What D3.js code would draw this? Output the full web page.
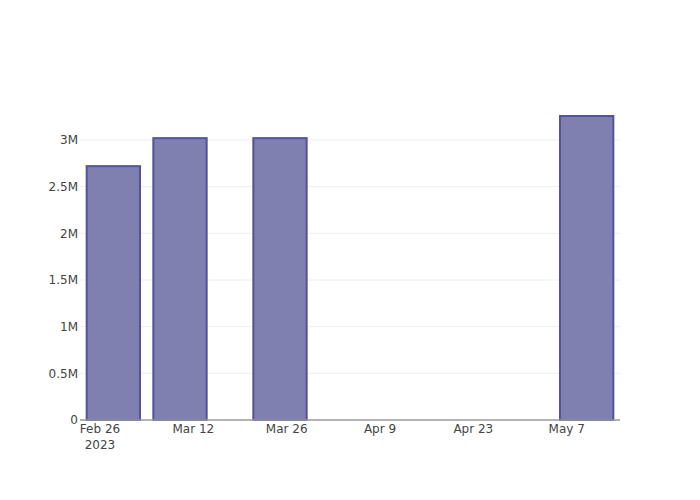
<!DOCTYPE html>
<html><head><meta charset="utf-8">
<script src="https://cdn.jsdelivr.net/npm/d3@7"></script>
<style>body{margin:0;background:#fff}svg{display:block}text{font-family:"DejaVu Sans",sans-serif;}</style>
</head><body>
<svg id="c" width="700" height="500"></svg>
<script>
const dates = ["2023-02-28","2023-03-10","2023-03-25","2023-05-10"];
const values = [2720000, 3020000, 3020000, 3257000];
const yTicks = [0, 500000, 1000000, 1500000, 2000000, 2500000, 3000000];
const yTickLabels = ["0","0.5M","1M","1.5M","2M","2.5M","3M"];
const xTicks = ["2023-02-26","2023-03-12","2023-03-26","2023-04-09","2023-04-23","2023-05-07"];
const xTickLabels = ["Feb 26","Mar 12","Mar 26","Apr 9","Apr 23","May 7"];

const parse = d3.utcParse("%Y-%m-%d");
const svg = d3.select("#c");
const L=80,R=620,T=100,B=420;
const x = d3.scaleUtc().domain([parse("2023-02-23"), parse("2023-05-15")]).range([L,R]);
const y = d3.scaleLinear().domain([0, 3428600]).range([B,T]);
const day = 86400000;
const barDays = 8;

// gridlines
svg.append("g").selectAll("line").data(yTicks.slice(1)).join("line")
  .attr("x1",L).attr("x2",R).attr("y1",d=>y(d)).attr("y2",d=>y(d))
  .attr("stroke","#eeeeee").attr("stroke-width",1);

// bars
svg.append("g").selectAll("rect").data(dates.map((d,i)=>({d:parse(d),v:values[i]}))).join("rect")
  .attr("x",d=>x(new Date(d.d.getTime()-barDays/2*day)))
  .attr("width",d=>x(new Date(d.d.getTime()+barDays/2*day))-x(new Date(d.d.getTime()-barDays/2*day)))
  .attr("y",d=>y(d.v)).attr("height",d=>B-y(d.v))
  .attr("fill","#7f7fb0").attr("stroke","#53539a").attr("stroke-width",2);

// x axis line
svg.append("line").attr("x1",L).attr("x2",R).attr("y1",B).attr("y2",B)
  .attr("stroke","#999").attr("stroke-width",1.5);

// y labels
svg.append("g").selectAll("text").data(yTicks).join("text")
  .attr("x",78).attr("y",d=>y(d)).attr("dy","0.35em").attr("text-anchor","end")
  .attr("font-size",12).attr("fill","#444").text((d,i)=>yTickLabels[i]);

// x labels
svg.append("g").selectAll("text").data(xTicks).join("text")
  .attr("x",d=>x(parse(d))).attr("y",433).attr("text-anchor","middle")
  .attr("font-size",12).attr("fill","#444").text((d,i)=>xTickLabels[i]);
svg.append("text").attr("x",x(parse(xTicks[0]))).attr("y",449).attr("text-anchor","middle")
  .attr("font-size",12).attr("fill","#444").text("2023");
</script>
</body></html>
